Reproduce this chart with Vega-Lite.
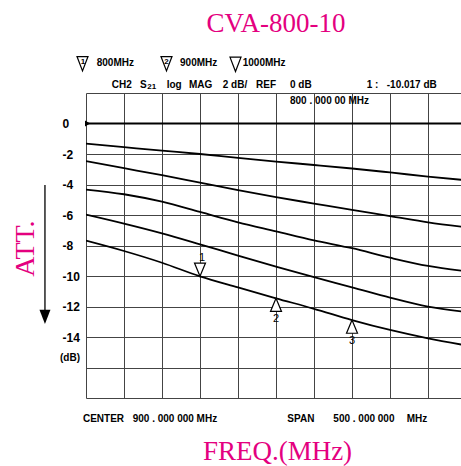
{
  "$schema": "https://vega.github.io/schema/vega-lite/v6.json",
  "width": 375,
  "height": 305,
  "autosize": {"type": "none"},
  "padding": {"left": 86, "top": 93, "right": 0, "bottom": 68},
  "background": "white",
  "config": {"view": {"stroke": null}, "font": "Liberation Sans"},
  "datasets": {
    "curves": [
      {"series": "ref", "freq": 650, "att": 0}, {"series": "ref", "freq": 900, "att": 0}, {"series": "ref", "freq": 1150, "att": 0},
      {"series": "A", "freq": 650, "att": -1.32}, {"series": "A", "freq": 700, "att": -1.55}, {"series": "A", "freq": 750, "att": -1.78}, {"series": "A", "freq": 800, "att": -2.0}, {"series": "A", "freq": 850, "att": -2.26}, {"series": "A", "freq": 900, "att": -2.5}, {"series": "A", "freq": 950, "att": -2.72}, {"series": "A", "freq": 1000, "att": -2.95}, {"series": "A", "freq": 1050, "att": -3.21}, {"series": "A", "freq": 1100, "att": -3.48}, {"series": "A", "freq": 1150, "att": -3.72},
      {"series": "B", "freq": 650, "att": -2.47}, {"series": "B", "freq": 700, "att": -2.93}, {"series": "B", "freq": 750, "att": -3.39}, {"series": "B", "freq": 800, "att": -3.88}, {"series": "B", "freq": 850, "att": -4.37}, {"series": "B", "freq": 900, "att": -4.83}, {"series": "B", "freq": 950, "att": -5.25}, {"series": "B", "freq": 1000, "att": -5.67}, {"series": "B", "freq": 1050, "att": -6.07}, {"series": "B", "freq": 1100, "att": -6.48}, {"series": "B", "freq": 1150, "att": -6.8},
      {"series": "C", "freq": 650, "att": -4.33}, {"series": "C", "freq": 700, "att": -4.64}, {"series": "C", "freq": 750, "att": -5.13}, {"series": "C", "freq": 800, "att": -5.8}, {"series": "C", "freq": 850, "att": -6.48}, {"series": "C", "freq": 900, "att": -7.07}, {"series": "C", "freq": 950, "att": -7.66}, {"series": "C", "freq": 1000, "att": -8.18}, {"series": "C", "freq": 1050, "att": -8.8}, {"series": "C", "freq": 1100, "att": -9.34}, {"series": "C", "freq": 1150, "att": -9.69},
      {"series": "D", "freq": 650, "att": -5.97}, {"series": "D", "freq": 700, "att": -6.56}, {"series": "D", "freq": 750, "att": -7.2}, {"series": "D", "freq": 800, "att": -7.92}, {"series": "D", "freq": 850, "att": -8.66}, {"series": "D", "freq": 900, "att": -9.38}, {"series": "D", "freq": 950, "att": -10.08}, {"series": "D", "freq": 1000, "att": -10.74}, {"series": "D", "freq": 1050, "att": -11.42}, {"series": "D", "freq": 1100, "att": -12.01}, {"series": "D", "freq": 1150, "att": -12.36},
      {"series": "E", "freq": 650, "att": -7.68}, {"series": "E", "freq": 700, "att": -8.36}, {"series": "E", "freq": 750, "att": -9.13}, {"series": "E", "freq": 800, "att": -10.02}, {"series": "E", "freq": 850, "att": -10.75}, {"series": "E", "freq": 900, "att": -11.46}, {"series": "E", "freq": 950, "att": -12.15}, {"series": "E", "freq": 1000, "att": -12.89}, {"series": "E", "freq": 1050, "att": -13.54}, {"series": "E", "freq": 1100, "att": -14.09}, {"series": "E", "freq": 1150, "att": -14.55}
    ],
    "markers": [
      {"marker": "1", "freq": 800, "att": -10.017, "dir": "down"},
      {"marker": "2", "freq": 900, "att": -11.46, "dir": "up"},
      {"marker": "3", "freq": 1000, "att": -12.89, "dir": "up"}
    ],
    "legendMarks": [
      {"marker": "1", "freq": 645.4, "att": 3.92},
      {"marker": "2", "freq": 755.9, "att": 3.92},
      {"marker": "3", "freq": 846.7, "att": 3.88}
    ],
    "legendNums": [
      {"txt": "1", "freq": 646, "att": 4.05},
      {"txt": "2", "freq": 755.9, "att": 4.05}
    ],
    "notes": [
      {"txt": "800MHz", "freq": 664.1, "att": 3.77},
      {"txt": "900MHz", "freq": 773.7, "att": 3.77},
      {"txt": "1000MHz", "freq": 856.2, "att": 3.77},
      {"txt": "CH2", "freq": 683.8, "att": 2.33},
      {"txt": "S", "freq": 721, "att": 2.33},
      {"txt": "log", "freq": 756.2, "att": 2.33},
      {"txt": "MAG", "freq": 785.5, "att": 2.33},
      {"txt": "2 dB/", "freq": 829.9, "att": 2.33},
      {"txt": "REF", "freq": 873.7, "att": 2.33},
      {"txt": "0 dB", "freq": 918.4, "att": 2.33},
      {"txt": "1 :", "freq": 1019.3, "att": 2.33},
      {"txt": "-10.017 dB", "freq": 1045.7, "att": 2.33},
      {"txt": "800 . 000 00 MHz", "freq": 918.4, "att": 1.25},
      {"txt": "(dB)", "freq": 615.8, "att": -15.57},
      {"txt": "CENTER", "freq": 646, "att": -19.57},
      {"txt": "900 . 000 000 MHz", "freq": 711.4, "att": -19.57},
      {"txt": "SPAN", "freq": 914.9, "att": -19.57},
      {"txt": "500 . 000 000", "freq": 975.4, "att": -19.57},
      {"txt": "MHz", "freq": 1072, "att": -19.57}
    ],
    "subscript": [{"txt": "21", "freq": 730.5, "att": 2.37}],
    "heading": [{"txt": "CVA-800-10", "freq": 900, "att": 6.02}],
    "arrow": [{"freq": 596, "att": -4.03, "att2": -12.4}],
    "arrowHead": [{"freq": 596, "att": -13.15}],
    "refPointer": [{"freq": 652.1, "att": 0}]
  },
  "encoding": {
    "x": {
      "field": "freq", "type": "quantitative",
      "scale": {"domain": [650, 1143.4], "nice": false, "zero": false},
      "axis": {
        "values": [650, 700, 750, 800, 850, 900, 950, 1000, 1050, 1100],
        "labels": false, "ticks": false, "domain": false,
        "grid": true, "gridColor": "#444444", "gridWidth": 1, "gridOpacity": 1,
        "title": "FREQ.(MHz)", "titleFont": "Liberation Serif", "titleFontSize": 27,
        "titleFontWeight": "normal", "titleColor": "#e4007f",
        "titleX": 191, "titleY": 61, "titleAlign": "center", "titleBaseline": "alphabetic"
      }
    },
    "y": {
      "field": "att", "type": "quantitative",
      "scale": {"domain": [-18, 2], "nice": false, "zero": false},
      "axis": {
        "values": [2, 0, -2, -4, -6, -8, -10, -12, -14, -16, -18],
        "labelExpr": "datum.value > 0 || datum.value < -15 ? '' : (datum.value == 0 ? '\u00a00' : '' + datum.value)",
        "ticks": false, "domain": false,
        "grid": true, "gridColor": "#444444", "gridWidth": 1, "gridOpacity": 1,
        "labelFont": "Liberation Sans", "labelFontSize": 12, "labelFontWeight": "bold",
        "labelColor": "black", "labelAlign": "left", "labelBaseline": "middle",
        "labelPadding": 24, "labelOverlap": false, "labelBound": false, "labelFlush": false,
        "title": "ATT.", "titleFont": "Liberation Serif", "titleFontSize": 28,
        "titleFontWeight": "normal", "titleColor": "#e4007f", "titleAngle": 270,
        "titleX": -53, "titleY": 155, "titleAlign": "center", "titleBaseline": "alphabetic"
      }
    }
  },
  "layer": [
    {
      "data": {"name": "curves"},
      "mark": {"type": "line", "color": "black", "strokeWidth": 1.8, "interpolate": "monotone", "clip": true},
      "encoding": {"detail": {"field": "series", "type": "nominal"}}
    },
    {
      "data": {"name": "markers"},
      "mark": {"type": "point", "filled": true, "fill": "white", "stroke": "black", "strokeWidth": 1.2, "size": 121, "opacity": 1},
      "encoding": {
        "shape": {"field": "dir", "type": "nominal", "scale": {"domain": ["down", "up"], "range": ["M0,0L-1,-2.4L1,-2.4Z", "M0,0L-1,2.4L1,2.4Z"]}, "legend": null}
      }
    },
    {
      "data": {"name": "markers"},
      "transform": [{"filter": "datum.dir == 'down'"}],
      "mark": {"type": "text", "font": "Liberation Sans", "fontSize": 11, "fill": "black", "align": "center", "baseline": "alphabetic", "dy": -15, "dx": 2},
      "encoding": {"text": {"field": "marker"}}
    },
    {
      "data": {"name": "markers"},
      "transform": [{"filter": "datum.dir == 'up'"}],
      "mark": {"type": "text", "font": "Liberation Sans", "fontSize": 11, "fill": "black", "align": "center", "baseline": "alphabetic", "dy": 24},
      "encoding": {"text": {"field": "marker"}}
    },
    {
      "data": {"name": "legendMarks"},
      "mark": {"type": "point", "filled": true, "fill": "white", "stroke": "black", "strokeWidth": 1.2, "size": 121, "opacity": 1, "shape": "M-1,-1.3L1,-1.3L0,1.3Z"}
    },
    {
      "data": {"name": "legendNums"},
      "mark": {"type": "text", "font": "Liberation Sans", "fontSize": 8, "fontWeight": "bold", "fill": "black", "align": "center", "baseline": "middle"},
      "encoding": {"text": {"field": "txt"}}
    },
    {
      "data": {"name": "notes"},
      "mark": {"type": "text", "font": "Liberation Sans", "fontSize": 10, "fontWeight": "bold", "fill": "black", "align": "left", "baseline": "alphabetic"},
      "encoding": {"text": {"field": "txt"}}
    },
    {
      "data": {"name": "subscript"},
      "mark": {"type": "text", "font": "Liberation Sans", "fontSize": 8, "fontWeight": "bold", "fill": "black", "align": "left", "baseline": "middle"},
      "encoding": {"text": {"field": "txt"}}
    },
    {
      "data": {"name": "heading"},
      "mark": {"type": "text", "font": "Liberation Serif", "fontSize": 27, "fill": "#e4007f", "align": "center", "baseline": "alphabetic"},
      "encoding": {"text": {"field": "txt"}}
    },
    {
      "data": {"name": "arrow"},
      "mark": {"type": "rule", "color": "black", "strokeWidth": 1.3},
      "encoding": {"y2": {"field": "att2"}}
    },
    {
      "data": {"name": "arrowHead"},
      "mark": {"type": "point", "filled": true, "color": "black", "opacity": 1, "size": 121, "shape": "M0,0L-1,-2.6L1,-2.6Z"}
    },
    {
      "data": {"name": "refPointer"},
      "mark": {"type": "point", "filled": true, "color": "black", "opacity": 1, "size": 36, "shape": "triangle-right"}
    }
  ]
}
